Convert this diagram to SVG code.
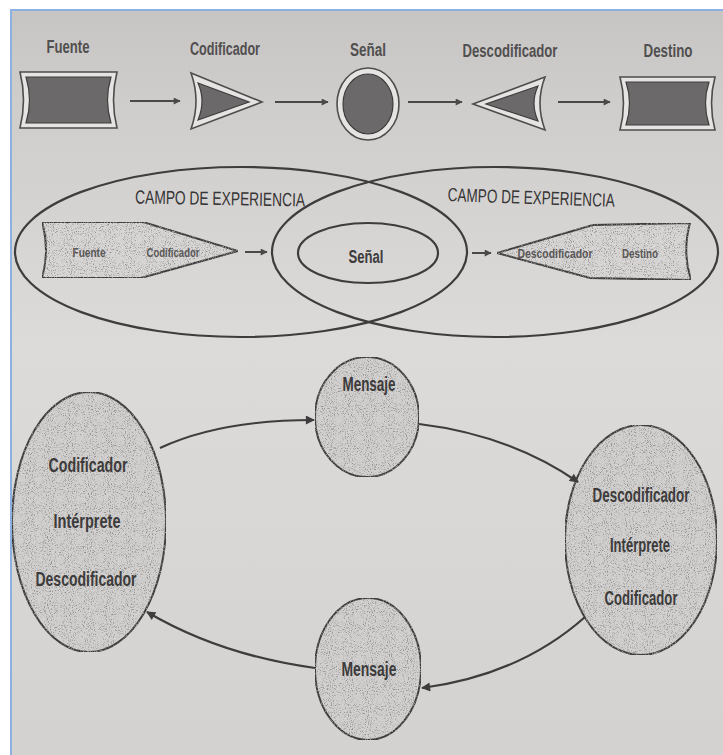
<svg xmlns="http://www.w3.org/2000/svg" width="723" height="755" viewBox="0 0 723 755">
  <defs>
    <linearGradient id="paper" x1="0" y1="0" x2="0" y2="1">
      <stop offset="0" stop-color="#c7c5c4"/>
      <stop offset="0.12" stop-color="#cfcdcc"/>
      <stop offset="0.45" stop-color="#dddbda"/>
      <stop offset="1" stop-color="#d4d2d1"/>
    </linearGradient>
    <filter id="speckle" x="0" y="0" width="100%" height="100%">
      <feTurbulence type="fractalNoise" baseFrequency="0.95" numOctaves="2" seed="4" result="noise"/>
      <feColorMatrix in="noise" type="matrix" values="0 0 0 0 0.3  0 0 0 0 0.29  0 0 0 0 0.29  4 0 0 0 -2.05" result="dots"/>
      <feComposite in="dots" in2="SourceGraphic" operator="in" result="clipped"/>
      <feMerge><feMergeNode in="SourceGraphic"/><feMergeNode in="clipped"/></feMerge>
    </filter>
    <marker id="ah" viewBox="0 0 10 10" refX="9" refY="5" markerWidth="9" markerHeight="7" markerUnits="userSpaceOnUse" orient="auto">
      <path d="M0,0 L10,5 L0,10 Z" fill="#4a4848"/>
    </marker>
    <marker id="ahL" viewBox="0 0 10 10" refX="9" refY="5" markerWidth="12" markerHeight="9" markerUnits="userSpaceOnUse" orient="auto">
      <path d="M0,0 L10,5 L0,10 Z" fill="#3e3c3c"/>
    </marker>
  </defs>
  <style>
    .lbl { font-family: "Liberation Sans", Arial, sans-serif; fill: #3d3b3b; text-anchor: middle; }
    .top { font-size: 18px; font-weight: bold; fill: #514f4f; }
    .mid { font-size: 13px; font-weight: bold; fill: #595757; }
    .campo { font-size: 19px; fill: #363434; }
    .big { font-size: 20px; font-weight: bold; }
    .outer { fill: #e6e4e3; stroke: #4e4c4c; stroke-width: 1.6; }
    .inner { fill: #6b6969; stroke: #3f3d3d; stroke-width: 1.2; }
    .line { fill: none; stroke: #3e3c3c; stroke-width: 2.2; }
    .plate { fill: #d8d6d5; stroke: #3e3c3c; stroke-width: 2; }
    .disc { fill: #d2d0cf; stroke: #3e3c3c; stroke-width: 2; }
    .arr { fill: none; stroke: #4a4848; stroke-width: 2; }
    .arrL { fill: none; stroke: #3e3c3c; stroke-width: 2.2; }
  </style>

  <!-- page and frame -->
  <rect x="0" y="0" width="723" height="755" fill="#ffffff"/>
  <rect x="11" y="10" width="712" height="745" fill="url(#paper)"/>
  <line x1="10" y1="10" x2="723" y2="10" stroke="#8db0e3" stroke-width="2"/>
  <line x1="11" y1="10" x2="11" y2="755" stroke="#8db0e3" stroke-width="2"/>

  <!-- linear model -->
  <g id="fuente">
    <path class="outer" d="M20,72 L117,72 Q110,100 117,128 L20,128 Q27,100 20,72 Z"/>
    <path class="inner" d="M26,77 L111,77 Q104,100 111,123 L26,123 Q33,100 26,77 Z"/>
    <text class="lbl top" x="68" y="53" textLength="43" lengthAdjust="spacingAndGlyphs">Fuente</text>
  </g>
  <g id="codificador">
    <path class="outer" d="M191,73 L262,102 L191,129 Q201,101 191,73 Z"/>
    <path class="inner" d="M198,83 L249,102 L198,120 Q206,101 198,83 Z"/>
    <text class="lbl top" x="225" y="55" textLength="70" lengthAdjust="spacingAndGlyphs">Codificador</text>
  </g>
  <g id="senal">
    <ellipse class="outer" cx="368" cy="104" rx="31" ry="36"/>
    <ellipse class="inner" cx="368" cy="104" rx="25" ry="30"/>
    <text class="lbl top" x="368" y="56" textLength="36" lengthAdjust="spacingAndGlyphs">Señal</text>
  </g>
  <g id="descodificador">
    <path class="outer" d="M545,77 L473,104 L545,130 Q535,103 545,77 Z"/>
    <path class="inner" d="M538,86 L486,104 L538,121 Q530,103 538,86 Z"/>
    <text class="lbl top" x="510" y="57" textLength="95" lengthAdjust="spacingAndGlyphs">Descodificador</text>
  </g>
  <g id="destino">
    <path class="outer" d="M620,77 L715,77 Q708,103 715,130 L620,130 Q627,103 620,77 Z"/>
    <path class="inner" d="M626,82 L709,82 Q702,103 709,125 L626,125 Q633,103 626,82 Z"/>
    <text class="lbl top" x="668" y="57" textLength="49" lengthAdjust="spacingAndGlyphs">Destino</text>
  </g>

  <!-- fields of experience -->
  <g id="campo-emisor">
    <ellipse class="line" cx="241" cy="252" rx="226" ry="85"/>
    <text class="lbl campo" x="220" y="205" textLength="170" lengthAdjust="spacingAndGlyphs" transform="rotate(1 220 205)">CAMPO DE EXPERIENCIA</text>
  </g>
  <g id="campo-receptor">
    <ellipse class="line" cx="495" cy="252" rx="223" ry="85"/>
    <text class="lbl campo" x="531" y="204" textLength="167" lengthAdjust="spacingAndGlyphs" transform="rotate(2 531 204)">CAMPO DE EXPERIENCIA</text>
  </g>
  <g id="fuente-codificador">
    <path class="plate" filter="url(#speckle)" d="M42,222 L143,222 L238,251 L141,278 L42,278 Q50,250 42,222 Z"/>
    <text class="lbl mid" x="89" y="257" textLength="33" lengthAdjust="spacingAndGlyphs">Fuente</text>
    <text class="lbl mid" x="173" y="257" textLength="53" lengthAdjust="spacingAndGlyphs">Codificador</text>
  </g>
  <g id="senal-campo">
    <ellipse class="line" cx="368" cy="253" rx="70" ry="30"/>
    <text class="lbl" x="366" y="263" font-size="18" font-weight="bold" fill="#4a4848" textLength="35" lengthAdjust="spacingAndGlyphs">Señal</text>
  </g>
  <g id="descodificador-destino">
    <path class="plate" filter="url(#speckle)" d="M497,253 L593,225 L690,223 Q682,252 691,280 L590,278 Z"/>
    <text class="lbl mid" x="555" y="258" textLength="75" lengthAdjust="spacingAndGlyphs">Descodificador</text>
    <text class="lbl mid" x="640" y="258" textLength="36" lengthAdjust="spacingAndGlyphs">Destino</text>
  </g>

  <!-- interactive cycle -->
  <g id="mensaje-ida">
    <ellipse class="disc" filter="url(#speckle)" cx="367" cy="417" rx="52" ry="60"/>
    <text class="lbl big" x="369" y="391" textLength="53" lengthAdjust="spacingAndGlyphs">Mensaje</text>
  </g>
  <g id="interprete-a">
    <ellipse class="disc" filter="url(#speckle)" cx="89" cy="522" rx="77" ry="130"/>
    <text class="lbl big" x="88" y="472" textLength="79" lengthAdjust="spacingAndGlyphs">Codificador</text>
    <text class="lbl big" x="87" y="528" textLength="67" lengthAdjust="spacingAndGlyphs">Intérprete</text>
    <text class="lbl big" x="86" y="586" textLength="101" lengthAdjust="spacingAndGlyphs">Descodificador</text>
  </g>
  <g id="interprete-b">
    <ellipse class="disc" filter="url(#speckle)" cx="641" cy="540" rx="76" ry="115"/>
    <text class="lbl big" x="641" y="502" textLength="97" lengthAdjust="spacingAndGlyphs">Descodificador</text>
    <text class="lbl big" x="640" y="552" textLength="60" lengthAdjust="spacingAndGlyphs">Intérprete</text>
    <text class="lbl big" x="641" y="605" textLength="73" lengthAdjust="spacingAndGlyphs">Codificador</text>
  </g>
  <g id="mensaje-vuelta">
    <ellipse class="disc" filter="url(#speckle)" cx="368" cy="669" rx="53" ry="71"/>
    <text class="lbl big" x="369" y="676" textLength="55" lengthAdjust="spacingAndGlyphs">Mensaje</text>
  </g>

  <!-- connectors -->
  <g id="connectors">
    <path class="arr" marker-end="url(#ah)" d="M130,101 L180,101"/>
    <path class="arr" marker-end="url(#ah)" d="M275,102 L328,102"/>
    <path class="arr" marker-end="url(#ah)" d="M408,102 L462,102"/>
    <path class="arr" marker-end="url(#ah)" d="M558,102 L610,102"/>
    <path class="arr" marker-end="url(#ah)" d="M245,252 L267,252"/>
    <path class="arr" marker-end="url(#ah)" d="M472,253 L491,253"/>
    <path class="arrL" marker-end="url(#ahL)" d="M160,448 Q220,420 314,420"/>
    <path class="arrL" marker-end="url(#ahL)" d="M419,424 Q510,435 578,482"/>
    <path class="arrL" marker-end="url(#ahL)" d="M585,617 Q520,675 422,688"/>
    <path class="arrL" marker-end="url(#ahL)" d="M315,668 Q220,655 147,612"/>
  </g>
</svg>
